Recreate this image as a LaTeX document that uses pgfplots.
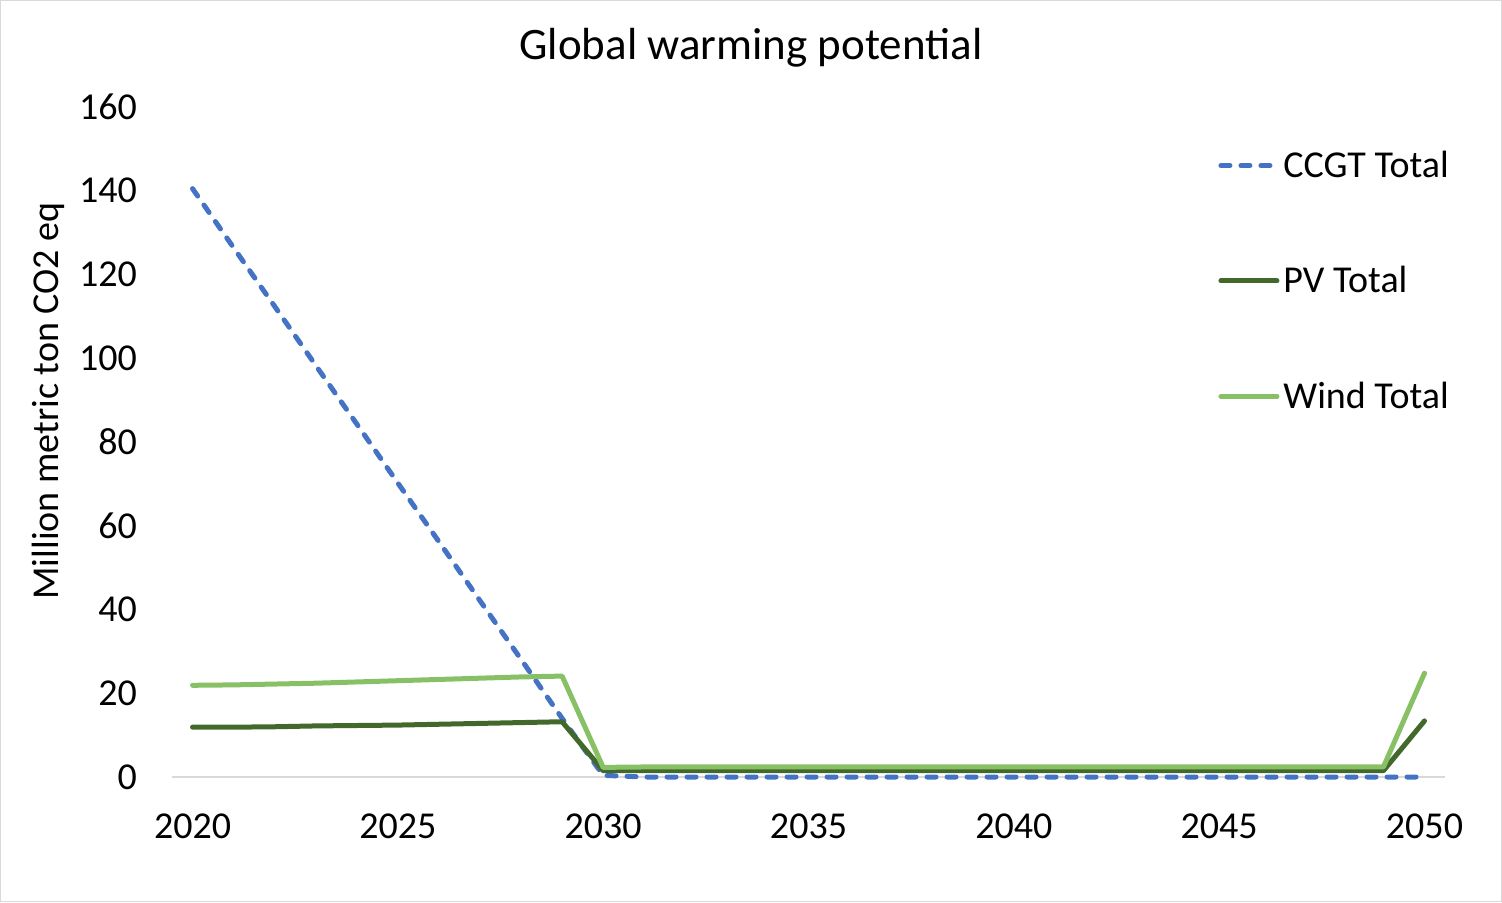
\documentclass[border=0pt]{standalone}
\usepackage{fontspec}
\setmainfont{Carlito}
\usepackage{pgfplots}
\pgfplotsset{compat=1.18}
\usepackage{pgfplotstable}
\usetikzlibrary{calc}

\definecolor{ccgt}{HTML}{4472C4}
\definecolor{pv}{HTML}{43682B}
\definecolor{wind}{HTML}{88C065}
\definecolor{frame}{HTML}{D9D9D9}

% year, CCGT, PV, Wind (million metric ton CO2 eq)
\pgfplotstableread{
year ccgt  pv   wind
2020 140.5 11.9 21.9
2021 126.4 11.9 22.0
2022 112.4 12.0 22.2
2023 98.3  12.2 22.4
2024 84.3  12.3 22.7
2025 70.2  12.4 23.0
2026 56.2  12.6 23.3
2027 42.1  12.8 23.6
2028 28.1  13.0 23.9
2029 14.0  13.2 24.1
2030 0.4   1.5  2.3
2031 0     1.5  2.4
2032 0     1.5  2.4
2033 0     1.5  2.4
2034 0     1.5  2.4
2035 0     1.5  2.4
2036 0     1.5  2.4
2037 0     1.5  2.4
2038 0     1.5  2.4
2039 0     1.5  2.4
2040 0     1.5  2.4
2041 0     1.5  2.4
2042 0     1.5  2.4
2043 0     1.5  2.4
2044 0     1.5  2.4
2045 0     1.5  2.4
2046 0     1.5  2.4
2047 0     1.5  2.4
2048 0     1.5  2.4
2049 0     1.5  2.4
2050 0     13.4 24.8
}\gwp

\begin{document}
\begin{tikzpicture}
\begin{axis}[
  name=ax,
  scale only axis,
  width=636.5pt, height=335pt,
  xmin=2019.5, xmax=2050.5,
  ymin=0, ymax=160,
  xtick={2020,2025,...,2050},
  ytick={0,20,...,160},
  /pgf/number format/assume math mode=true,
  /pgf/number format/1000 sep={},
  tick label style={font=\fontsize{19pt}{23pt}\selectfont},
  axis x line=bottom,
  axis y line=left,
  x axis line style={-, draw=frame, line width=0.6pt},
  y axis line style={draw=none},
  major tick length=0pt,
  xticklabel style={yshift=-15pt},
  yticklabel style={xshift=-14pt},
  clip=false,
  legend style={
    at={(0.817,0.947)}, anchor=north west,
    draw=none, fill=none,
    font=\fontsize{19pt}{23pt}\selectfont,
    row sep=39pt,
    legend cell align=left,
  },
  legend image code/.code={\draw[#1] (0pt,0pt) -- (28pt,0pt);},
]
\addplot[ccgt, line width=2.5pt, line cap=round, dash pattern=on 4.5pt off 5.5pt] table[x=year, y=ccgt] {\gwp};
\addlegendentry{CCGT Total}
\addplot[pv, line width=2.5pt, line cap=round, line join=round] table[x=year, y=pv] {\gwp};
\addlegendentry{PV Total}
\addplot[wind, line width=2.5pt, line cap=round, line join=round] table[x=year, y=wind] {\gwp};
\addlegendentry{Wind Total}
\end{axis}
% chart frame, title and y-axis label
\draw[frame, line width=0.6pt] ($(ax.south west)+(-85.7pt,-62.2pt)$) rectangle ($(ax.north east)+(28.2pt,53.2pt)$);
\node[font=\fontsize{22.5pt}{27pt}\selectfont] at ($(ax.south west)+(289.5pt,364.5pt)$) {Global warming potential};
\node[rotate=90, font=\fontsize{19pt}{23pt}\selectfont] at ($(ax.south west)+(-62pt,188pt)$) {Million metric ton CO2 eq};
\end{tikzpicture}
\end{document}
